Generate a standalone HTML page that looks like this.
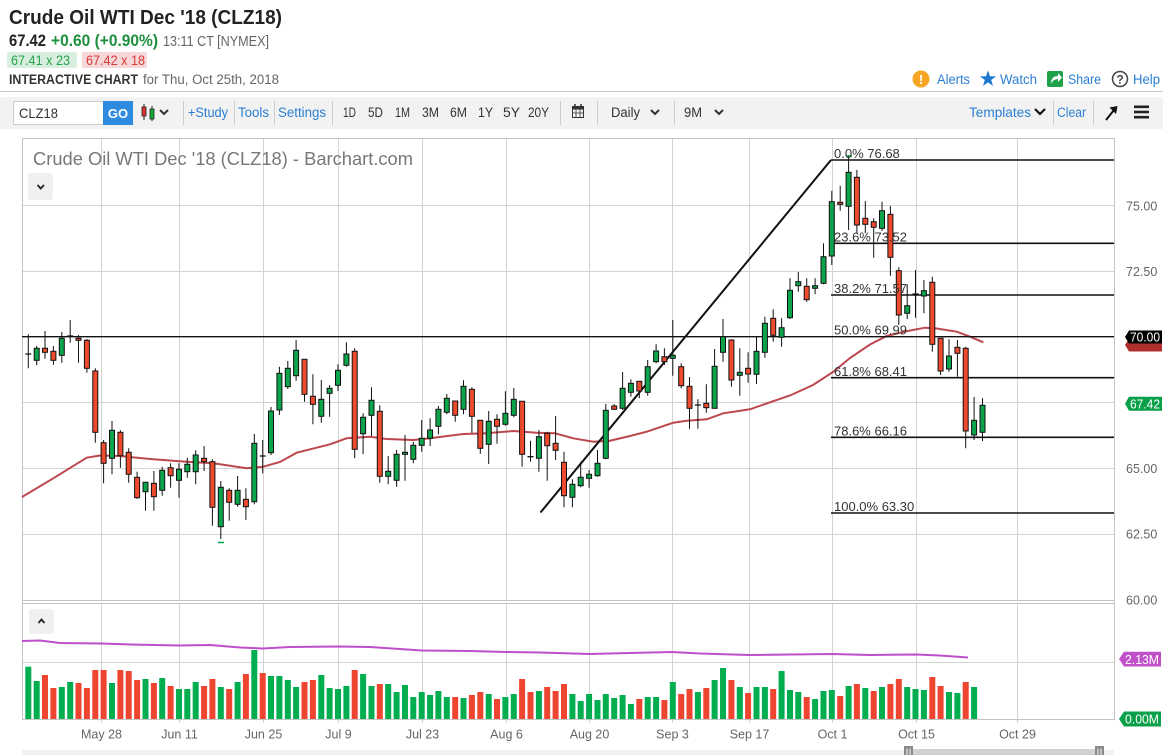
<!DOCTYPE html>
<html><head><meta charset="utf-8"><style>
html,body{margin:0;padding:0;background:#fff;width:1165px;height:755px;overflow:hidden}
svg{display:block;font-family:"Liberation Sans",Arial,sans-serif}
.r{fill:#ee4a2e;stroke:#111;stroke-width:1}
.g{fill:#0ca44a;stroke:#111;stroke-width:1}
.vr{fill:#ee4530}
.vg{fill:#00ad4f}
.grid{stroke:#d3d3d3;stroke-width:1;fill:none}
.ax{font-size:12.5px;fill:#666}
.fib{font-size:13px;fill:#333}
.tb{font-size:13.5px;fill:#333}
.lk{font-size:13.5px;fill:#2a7fd4}
</style></head><body>
<svg width="1165" height="755" viewBox="0 0 1165 755" xmlns="http://www.w3.org/2000/svg">
<!-- Header -->
<text x="9" y="24" font-size="20" font-weight="bold" fill="#222" textLength="273" lengthAdjust="spacingAndGlyphs">Crude Oil WTI Dec '18 (CLZ18)</text>
<text x="9" y="46" font-size="17" font-weight="bold" fill="#222" textLength="37" lengthAdjust="spacingAndGlyphs">67.42</text>
<text x="51" y="46" font-size="17" font-weight="bold" fill="#1e8f3e" textLength="107" lengthAdjust="spacingAndGlyphs">+0.60 (+0.90%)</text>
<text x="163" y="46" font-size="14.5" fill="#666" textLength="106" lengthAdjust="spacingAndGlyphs">13:11 CT [NYMEX]</text>
<rect x="7" y="52" width="70" height="16" rx="2" fill="#d8efdf"/>
<text x="11" y="65" font-size="14" fill="#27a348" textLength="59" lengthAdjust="spacingAndGlyphs">67.41 x 23</text>
<rect x="82" y="52" width="65" height="16" rx="2" fill="#f7d7d7"/>
<text x="86" y="65" font-size="14" fill="#d83a3a" textLength="59" lengthAdjust="spacingAndGlyphs">67.42 x 18</text>
<text x="9" y="84" font-size="13.5" font-weight="bold" fill="#333" textLength="129" lengthAdjust="spacingAndGlyphs">INTERACTIVE CHART</text>
<text x="143" y="84" font-size="13.5" fill="#666" textLength="136" lengthAdjust="spacingAndGlyphs">for Thu, Oct 25th, 2018</text>

<!-- right links -->
<circle cx="921" cy="79" r="8.5" fill="#f6a623"/>
<text x="921" y="84" font-size="13" font-weight="bold" fill="#fff" text-anchor="middle">!</text>
<text x="937" y="84" class="lk" textLength="33" lengthAdjust="spacingAndGlyphs">Alerts</text>
<path d="M988 70.5 L990 76.25 L996.1 76.4 L991.2 80.05 L993 85.9 L988 82.4 L983 85.9 L984.8 80.05 L979.9 76.4 L986 76.25 Z" fill="#1f77d0"/>
<text x="1000" y="84" class="lk" textLength="37" lengthAdjust="spacingAndGlyphs">Watch</text>
<rect x="1047" y="71" width="16" height="16" rx="2" fill="#1fa24a"/>
<path d="M1051 84 Q1051 76 1058 76 L1058 73 L1062 77.5 L1058 82 L1058 79 Q1053 79 1051 84 Z" fill="#fff"/>
<text x="1068" y="84" class="lk" textLength="33" lengthAdjust="spacingAndGlyphs">Share</text>
<circle cx="1120" cy="79" r="7.5" fill="none" stroke="#444" stroke-width="1.5"/>
<text x="1120" y="83.5" font-size="12" font-weight="bold" fill="#444" text-anchor="middle">?</text>
<text x="1133" y="84" class="lk" textLength="27" lengthAdjust="spacingAndGlyphs">Help</text>

<line x1="0" y1="91.5" x2="1163" y2="91.5" stroke="#ccc" stroke-width="1"/>

<!-- toolbar -->
<rect x="0" y="97" width="1163" height="32" fill="#f2f2f2"/>
<rect x="13.5" y="101.5" width="90" height="23" fill="#fff" stroke="#ccc"/>
<text x="19" y="118" font-size="14" fill="#333" textLength="39" lengthAdjust="spacingAndGlyphs">CLZ18</text>
<rect x="103" y="101" width="30" height="24" fill="#2f8be0"/>
<text x="118" y="118" font-size="13" font-weight="bold" fill="#fff" text-anchor="middle">GO</text>
<line x1="144" y1="104" x2="144" y2="120" stroke="#222"/>
<rect x="142" y="107" width="4" height="9" fill="#d33" stroke="#222" stroke-width="0.8"/>
<line x1="152" y1="106" x2="152" y2="121" stroke="#222"/>
<rect x="150" y="109" width="4" height="10" fill="#1a3" stroke="#222" stroke-width="0.8"/>
<path d="M160 110 L164 114 L168 110" stroke="#333" stroke-width="2" fill="none"/>
<g stroke="#ccc"><line x1="183.5" y1="101" x2="183.5" y2="125"/><line x1="234.5" y1="101" x2="234.5" y2="125"/><line x1="274.5" y1="101" x2="274.5" y2="125"/><line x1="332.5" y1="101" x2="332.5" y2="125"/><line x1="560.5" y1="101" x2="560.5" y2="125"/><line x1="597.5" y1="101" x2="597.5" y2="125"/><line x1="674.5" y1="101" x2="674.5" y2="125"/><line x1="1053.5" y1="101" x2="1053.5" y2="125"/><line x1="1093.5" y1="101" x2="1093.5" y2="125"/></g>
<text x="188" y="117" class="lk" textLength="40" lengthAdjust="spacingAndGlyphs">+Study</text>
<text x="238" y="117" class="lk" textLength="31" lengthAdjust="spacingAndGlyphs">Tools</text>
<text x="278" y="117" class="lk" textLength="48" lengthAdjust="spacingAndGlyphs">Settings</text>
<text x="343" y="117" class="tb" textLength="13" lengthAdjust="spacingAndGlyphs">1D</text>
<text x="368" y="117" class="tb" textLength="15" lengthAdjust="spacingAndGlyphs">5D</text>
<text x="395" y="117" class="tb" textLength="15" lengthAdjust="spacingAndGlyphs">1M</text>
<text x="422" y="117" class="tb" textLength="17" lengthAdjust="spacingAndGlyphs">3M</text>
<text x="450" y="117" class="tb" textLength="17" lengthAdjust="spacingAndGlyphs">6M</text>
<text x="478" y="117" class="tb" textLength="15" lengthAdjust="spacingAndGlyphs">1Y</text>
<text x="503" y="117" class="tb" textLength="17" lengthAdjust="spacingAndGlyphs">5Y</text>
<text x="528" y="117" class="tb" textLength="21" lengthAdjust="spacingAndGlyphs">20Y</text>
<rect x="572.5" y="106.5" width="11" height="11" fill="none" stroke="#333"/>
<rect x="572.5" y="106.5" width="11" height="3" fill="#333"/>
<line x1="575" y1="104" x2="575" y2="108" stroke="#333" stroke-width="1.5"/><line x1="581" y1="104" x2="581" y2="108" stroke="#333" stroke-width="1.5"/>
<path d="M572.5 113 H583.5 M576 109.5 V117.5 M580 109.5 V117.5" stroke="#333" stroke-width="0.8"/>
<text x="611" y="117" class="tb" textLength="29" lengthAdjust="spacingAndGlyphs">Daily</text>
<path d="M651 110 L655 114 L659 110" stroke="#333" stroke-width="2" fill="none"/>
<text x="684" y="117" class="tb" textLength="18" lengthAdjust="spacingAndGlyphs">9M</text>
<path d="M715 110 L719 114 L723 110" stroke="#333" stroke-width="2" fill="none"/>
<text x="969" y="117" class="lk" textLength="62" lengthAdjust="spacingAndGlyphs">Templates</text>
<path d="M1035 109 L1040 114 L1045 109" stroke="#111" stroke-width="2.2" fill="none"/>
<text x="1057" y="117" class="lk" textLength="29" lengthAdjust="spacingAndGlyphs">Clear</text>
<line x1="1106" y1="120" x2="1114" y2="110" stroke="#111" stroke-width="2"/>
<polygon points="1117.5,106 1109.5,107.5 1116,114" fill="#111"/>
<rect x="1134" y="105.5" width="15" height="2.6" fill="#222"/>
<rect x="1134" y="110.7" width="15" height="2.6" fill="#222"/>
<rect x="1134" y="115.9" width="15" height="2.6" fill="#222"/>

<!-- Chart frame & grid -->
<g class="grid">
<path d="M101.5 138V600 M179.5 138V600 M263.5 138V600 M338.5 138V600 M422.5 138V600 M506.5 138V600 M589.5 138V600 M672.5 138V600 M749.5 138V600 M832.5 138V600 M916.5 138V600 M1017.5 138V600"/>
<path d="M101.5 603V723 M179.5 603V723 M263.5 603V723 M338.5 603V723 M422.5 603V723 M506.5 603V723 M589.5 603V723 M672.5 603V723 M749.5 603V723 M832.5 603V723 M916.5 603V723 M1017.5 603V723"/>
<path d="M22 205.5H1114 M22 271.5H1114 M22 402.5H1114 M22 468.5H1114 M22 534.5H1114 M22 662.5H1114"/>
</g>
<g stroke="#c4c4c4" fill="none">
<path d="M22.5 138.5H1114.5V719.5H22.5Z"/>
<path d="M22 600.5H1114 M22 603.5H1114"/>
</g>

<!-- chart title & collapse buttons -->
<text x="33" y="165" font-size="18" fill="#777" textLength="380" lengthAdjust="spacingAndGlyphs">Crude Oil WTI Dec '18 (CLZ18) - Barchart.com</text>
<rect x="28" y="173" width="25" height="27" rx="3" fill="#f0f0f0"/>
<path d="M37.5 185 L40.7 188.5 L44 185" stroke="#222" stroke-width="1.8" fill="none"/>
<rect x="29" y="609" width="25" height="25" rx="3" fill="#f0f0f0"/>
<path d="M38.5 623 L41.5 619.5 L44.5 623" stroke="#222" stroke-width="1.8" fill="none"/>

<!-- MA line -->
<path d="M22 497 L53.3 478.3 L86.7 457.7 L100 455.5 L120 456 L153.3 459.3 L186.7 461.7 L213.3 463.3 L246.7 468.3 L263.3 466.7 L280 462 L296.7 452.7 L330 444.3 L346.7 438.3 L370 436.7 L386.7 439 L413.3 440 L430 438.3 L463.3 434 L486.7 433.3 L513.3 431 L536.7 432.7 L555 433.3 L573.3 438.3 L593.3 441.7 L610 440.7 L630 436 L646.7 431.7 L673.3 422.7 L686.7 420.7 L706.7 419.3 L723.3 413.3 L750 409.3 L770 402.3 L790 395.5 L813 385 L833 372 L850 358 L870 344.5 L886.7 336 L905 331.5 L925 327.7 L936.7 328.5 L956.7 331.7 L970 336.7 L983.3 342.3" fill="none" stroke="#b5333a" stroke-width="2" stroke-opacity="0.9"/>

<!-- 70 line, diagonal, fib lines -->
<line x1="22" y1="336.7" x2="1114" y2="336.7" stroke="#111" stroke-width="1.4"/>
<line x1="540.5" y1="512.5" x2="831" y2="160" stroke="#111" stroke-width="2"/>
<g stroke="#111" stroke-width="1.6">
<line x1="831" y1="160" x2="1114" y2="160"/>
<line x1="831" y1="243.3" x2="1114" y2="243.3"/>
<line x1="831" y1="295" x2="1114" y2="295"/>
<line x1="831" y1="377.7" x2="1114" y2="377.7"/>
<line x1="831" y1="437.3" x2="1114" y2="437.3"/>
<line x1="831" y1="513" x2="1114" y2="513"/>
</g>

<!-- wicks -->
<path stroke="#111" stroke-width="1" fill="none" d="M28.3 334.3V368.3 M36.7 346V365.3 M45 331V358.7 M53.4 346V364.7 M61.8 332V362.7 M70.2 320V342.7 M78.5 335V362.7 M86.9 339V372.7 M95.3 368.3V442.7 M103.6 440V483.3 M112 421V474.3 M120.4 430.3V467.7 M128.7 448.3V482.7 M137.1 471.7V499 M145.5 481.7V510.7 M153.9 471V510.7 M162.2 466.7V495.7 M170.6 463.3V487.7 M179 463.3V497.7 M187.3 457.7V477.7 M195.7 450.3V484.3 M204.1 446V471 M212.4 459.3V525.7 M220.8 481V539 M229.2 488.3V520.7 M237.6 476V506.7 M245.9 488.3V520 M254.3 434V504.3 M262.7 440V473.3 M271 407V455 M279.4 366.7V415 M287.8 361V389 M296.1 340V380.7 M304.5 359.3V401.7 M312.9 374.3V424.3 M321.3 380V422.7 M329.6 385V416.7 M338 364.3V391 M346.4 342.3V366.7 M354.7 348.3V458.3 M363.1 413.3V454 M371.5 387.3V436 M379.8 405.3V482.7 M388.2 456V484.3 M396.6 450V486.7 M405 435V480.7 M413.3 442V463.3 M421.7 420V451.7 M430.1 418.3V446 M438.4 406V434.3 M446.8 394V414.3 M455.2 401V421.7 M463.5 380.3V414.3 M471.9 387.3V432.7 M480.3 420.3V453.7 M488.7 411V464 M497 414.3V443.7 M505.4 391.3V425.7 M513.8 388V417.3 M522.1 401.3V466.7 M530.5 440.7V461.7 M538.9 430V471.7 M547.2 431.7V480.7 M555.6 416V460 M564 451.7V507.3 M572.4 479.3V507.3 M580.7 461.7V487.3 M589.1 470V487.7 M597.5 450V476.7 M605.8 404V459.3 M614.2 404V410 M622.6 372V410 M630.9 379.3V396.7 M639.3 381.3V398.3 M647.7 360V395.7 M656.1 344.3V363.3 M664.4 348.3V365 M672.8 320V375.7 M681.2 363.3V388.3 M689.5 377V428.7 M697.9 399.3V428.7 M706.3 384.3V412.7 M714.6 349V408.3 M723 319V361.7 M731.4 339.3V386.7 M739.8 348.3V395.7 M748.1 352.3V382.7 M756.5 336.7V384 M764.9 316.7V357.7 M773.2 309.3V341.7 M781.6 318.3V346.7 M790 278.3V319 M798.3 272V291.7 M806.7 278.3V301.7 M815.1 278.3V294.3 M823.5 243.3V284.3 M831.8 190.7V265 M840.2 185.7V210.7 M848.6 155V230 M856.9 170V233.3 M865.3 201V233.3 M873.7 218.3V257.7 M882 201.7V231 M890.4 206V275.7 M898.8 267.3V325 M907.2 284.3V319 M915.5 270V317.7 M923.9 280V313.3 M932.3 276.7V351.7 M940.6 338.3V375 M949 339.3V371.7 M957.4 340V376.7 M965.7 346.7V448.3 M974.1 397V440 M982.5 398.3V441"/>
<!-- doji ticks -->
<path stroke="#111" stroke-width="1.3" d="M25.3 354H31.3 M67.2 336H73.2 M259.7 456H265.7 M527.5 456.7H533.5 M694.9 405H700.9 M912.5 294H918.5"/>
<!-- bodies -->
<g>
<rect class="g" x="34.2" y="348.3" width="5" height="12"/>
<rect class="r" x="42.5" y="348.3" width="5" height="4"/>
<rect class="r" x="50.9" y="351.3" width="5" height="9"/>
<rect class="g" x="59.3" y="338.3" width="5" height="17"/>
<rect class="r" x="76" y="338.3" width="5" height="2"/>
<rect class="r" x="84.4" y="340.3" width="5" height="28"/>
<rect class="r" x="92.8" y="371" width="5" height="61.3"/>
<rect class="r" x="101.1" y="442.7" width="5" height="20.6"/>
<rect class="g" x="109.5" y="430.3" width="5" height="28"/>
<rect class="r" x="117.9" y="432.3" width="5" height="23.4"/>
<rect class="r" x="126.2" y="452.3" width="5" height="22"/>
<rect class="r" x="134.6" y="477.3" width="5" height="20.4"/>
<rect class="g" x="143" y="482.3" width="5" height="9.4"/>
<rect class="r" x="151.4" y="483.3" width="5" height="13.4"/>
<rect class="g" x="159.7" y="470.3" width="5" height="20"/>
<rect class="r" x="168.1" y="467.7" width="5" height="8"/>
<rect class="g" x="176.5" y="469.3" width="5" height="11"/>
<rect class="g" x="184.8" y="464.3" width="5" height="7.4"/>
<rect class="g" x="193.2" y="455" width="5" height="16.7"/>
<rect class="r" x="201.6" y="458.3" width="5" height="3.4"/>
<rect class="r" x="209.9" y="461.7" width="5" height="45.6"/>
<rect class="g" x="218.3" y="487.3" width="5" height="39.4"/>
<rect class="r" x="226.7" y="490.3" width="5" height="12"/>
<rect class="g" x="235.1" y="490.3" width="5" height="14"/>
<rect class="r" x="243.4" y="499.3" width="5" height="7.4"/>
<rect class="g" x="251.8" y="443.3" width="5" height="58.4"/>
<rect class="g" x="268.5" y="411" width="5" height="41.7"/>
<rect class="g" x="276.9" y="373.3" width="5" height="36.7"/>
<rect class="g" x="285.3" y="368.3" width="5" height="18.4"/>
<rect class="g" x="293.6" y="350.3" width="5" height="25.4"/>
<rect class="r" x="302" y="359.3" width="5" height="35"/>
<rect class="r" x="310.4" y="396.3" width="5" height="8"/>
<rect class="g" x="318.8" y="399.3" width="5" height="17"/>
<rect class="g" x="327.1" y="388.3" width="5" height="5"/>
<rect class="g" x="335.5" y="370.3" width="5" height="15"/>
<rect class="g" x="343.9" y="354" width="5" height="11.3"/>
<rect class="r" x="352.2" y="351.3" width="5" height="98"/>
<rect class="g" x="360.6" y="417.3" width="5" height="16.4"/>
<rect class="g" x="369" y="400.3" width="5" height="15"/>
<rect class="r" x="377.3" y="411.3" width="5" height="65"/>
<rect class="g" x="385.7" y="471.3" width="5" height="5"/>
<rect class="g" x="394.1" y="454.3" width="5" height="26"/>
<rect class="g" x="402.5" y="452.3" width="5" height="2"/>
<rect class="g" x="410.8" y="445.3" width="5" height="14"/>
<rect class="g" x="419.2" y="438.3" width="5" height="7"/>
<rect class="g" x="427.6" y="430" width="5" height="8.3"/>
<rect class="g" x="435.9" y="409.3" width="5" height="17"/>
<rect class="g" x="444.3" y="398.3" width="5" height="14"/>
<rect class="r" x="452.7" y="401" width="5" height="14.3"/>
<rect class="g" x="461" y="386.3" width="5" height="23"/>
<rect class="r" x="469.4" y="389.3" width="5" height="27"/>
<rect class="r" x="477.8" y="420.3" width="5" height="28"/>
<rect class="g" x="486.2" y="421.3" width="5" height="23"/>
<rect class="r" x="494.5" y="419.3" width="5" height="7"/>
<rect class="g" x="502.9" y="413.3" width="5" height="11"/>
<rect class="g" x="511.3" y="399.3" width="5" height="16"/>
<rect class="r" x="519.6" y="401.3" width="5" height="53"/>
<rect class="g" x="536.4" y="436.7" width="5" height="21.6"/>
<rect class="r" x="544.7" y="433.3" width="5" height="12.4"/>
<rect class="r" x="553.1" y="443.3" width="5" height="7"/>
<rect class="r" x="561.5" y="462.3" width="5" height="33.4"/>
<rect class="g" x="569.9" y="484.3" width="5" height="13"/>
<rect class="g" x="578.2" y="477.3" width="5" height="8.4"/>
<rect class="g" x="586.6" y="474.3" width="5" height="4"/>
<rect class="g" x="595" y="463.3" width="5" height="12.4"/>
<rect class="g" x="603.3" y="410.3" width="5" height="48"/>
<rect class="r" x="611.7" y="406" width="5" height="3.3"/>
<rect class="g" x="620.1" y="388.3" width="5" height="20"/>
<rect class="g" x="628.4" y="383.3" width="5" height="9"/>
<rect class="r" x="636.8" y="381.3" width="5" height="9.7"/>
<rect class="g" x="645.2" y="366.7" width="5" height="25.6"/>
<rect class="g" x="653.6" y="351" width="5" height="10.7"/>
<rect class="r" x="661.9" y="356.7" width="5" height="5"/>
<rect class="g" x="670.3" y="355.3" width="5" height="3"/>
<rect class="r" x="678.7" y="366.7" width="5" height="19"/>
<rect class="r" x="687" y="386.3" width="5" height="22"/>
<rect class="r" x="703.8" y="403.3" width="5" height="4.4"/>
<rect class="g" x="712.1" y="366.3" width="5" height="42"/>
<rect class="g" x="720.5" y="336.7" width="5" height="15.6"/>
<rect class="r" x="728.9" y="340" width="5" height="40"/>
<rect class="g" x="737.3" y="372.3" width="5" height="3"/>
<rect class="r" x="745.6" y="368.3" width="5" height="5.7"/>
<rect class="g" x="754" y="351.3" width="5" height="23"/>
<rect class="g" x="762.4" y="323.3" width="5" height="29"/>
<rect class="r" x="770.7" y="318.3" width="5" height="17"/>
<rect class="g" x="779.1" y="327.7" width="5" height="9.6"/>
<rect class="g" x="787.5" y="290.3" width="5" height="27.4"/>
<rect class="g" x="795.8" y="281.7" width="5" height="4"/>
<rect class="r" x="804.2" y="286.3" width="5" height="13.4"/>
<rect class="g" x="812.6" y="285.7" width="5" height="2.6"/>
<rect class="g" x="821" y="256.7" width="5" height="26.6"/>
<rect class="g" x="829.3" y="201.7" width="5" height="54.3"/>
<rect class="r" x="837.7" y="202.3" width="5" height="2"/>
<rect class="g" x="846.1" y="172.3" width="5" height="34"/>
<rect class="r" x="854.4" y="177.3" width="5" height="47.7"/>
<rect class="r" x="862.8" y="218.3" width="5" height="6"/>
<rect class="r" x="871.2" y="221.7" width="5" height="5.6"/>
<rect class="g" x="879.5" y="210.7" width="5" height="17.6"/>
<rect class="r" x="887.9" y="214.3" width="5" height="43"/>
<rect class="r" x="896.3" y="270.7" width="5" height="44.3"/>
<rect class="g" x="904.7" y="305.7" width="5" height="7.6"/>
<rect class="g" x="921.4" y="290.7" width="5" height="5.3"/>
<rect class="r" x="929.8" y="282.3" width="5" height="62"/>
<rect class="r" x="938.1" y="338.3" width="5" height="32.7"/>
<rect class="g" x="946.5" y="356" width="5" height="13"/>
<rect class="r" x="954.9" y="347.3" width="5" height="6"/>
<rect class="r" x="963.2" y="348.3" width="5" height="82.7"/>
<rect class="g" x="971.6" y="420.3" width="5" height="14.7"/>
<rect class="g" x="980" y="405.3" width="5" height="27"/>
</g>
<!-- high/low markers -->
<path d="M218 542.5H224 M846 156H852" stroke="#0ca44a" stroke-width="1.5"/>

<!-- fib labels -->
<text x="834" y="158" class="fib">0.0% 76.68</text>
<text x="834" y="241.5" class="fib">23.6% 73.52</text>
<text x="834" y="293" class="fib">38.2% 71.57</text>
<text x="834" y="334.5" class="fib">50.0% 69.99</text>
<text x="834" y="376" class="fib">61.8% 68.41</text>
<text x="834" y="435.5" class="fib">78.6% 66.16</text>
<text x="834" y="511" class="fib">100.0% 63.30</text>

<!-- volume -->
<path d="M22 641 L40 640.5 L60 643 L101 643.5 L130 644.5 L179 645.5 L210 645 L240 647.5 L263 648.5 L290 647 L338 646.5 L370 647 L422 650.5 L470 651 L506 652 L540 652.5 L589 654 L630 653 L672 652 L700 653.5 L749 655 L790 654.5 L832 654 L870 655 L916 654.5 L940 655.5 L968 657.5" fill="none" stroke="#c04fcc" stroke-width="2"/>
<g>
<rect class="vg" x="25.3" y="666.7" width="6" height="52.3"/>
<rect class="vg" x="33.7" y="681" width="6" height="38"/>
<rect class="vr" x="42" y="675" width="6" height="44"/>
<rect class="vr" x="50.4" y="688" width="6" height="31"/>
<rect class="vg" x="58.8" y="687" width="6" height="32"/>
<rect class="vg" x="67.2" y="682" width="6" height="37"/>
<rect class="vr" x="75.5" y="683" width="6" height="36"/>
<rect class="vr" x="83.9" y="688" width="6" height="31"/>
<rect class="vr" x="92.3" y="670" width="6" height="49"/>
<rect class="vr" x="100.6" y="670" width="6" height="49"/>
<rect class="vg" x="109" y="683" width="6" height="36"/>
<rect class="vr" x="117.4" y="670" width="6" height="49"/>
<rect class="vr" x="125.7" y="671" width="6" height="48"/>
<rect class="vr" x="134.1" y="680" width="6" height="39"/>
<rect class="vg" x="142.5" y="679" width="6" height="40"/>
<rect class="vr" x="150.9" y="683" width="6" height="36"/>
<rect class="vg" x="159.2" y="678" width="6" height="41"/>
<rect class="vr" x="167.6" y="686" width="6" height="33"/>
<rect class="vg" x="176" y="689" width="6" height="30"/>
<rect class="vg" x="184.3" y="689" width="6" height="30"/>
<rect class="vg" x="192.7" y="682" width="6" height="37"/>
<rect class="vr" x="201.1" y="686" width="6" height="33"/>
<rect class="vr" x="209.4" y="679" width="6" height="40"/>
<rect class="vg" x="217.8" y="687" width="6" height="32"/>
<rect class="vr" x="226.2" y="689" width="6" height="30"/>
<rect class="vg" x="234.6" y="682" width="6" height="37"/>
<rect class="vr" x="242.9" y="674" width="6" height="45"/>
<rect class="vg" x="251.3" y="650" width="6" height="69"/>
<rect class="vr" x="259.7" y="673" width="6" height="46"/>
<rect class="vg" x="268" y="676" width="6" height="43"/>
<rect class="vg" x="276.4" y="676" width="6" height="43"/>
<rect class="vg" x="284.8" y="680" width="6" height="39"/>
<rect class="vg" x="293.1" y="687" width="6" height="32"/>
<rect class="vr" x="301.5" y="682" width="6" height="37"/>
<rect class="vr" x="309.9" y="680" width="6" height="39"/>
<rect class="vg" x="318.3" y="675" width="6" height="44"/>
<rect class="vg" x="326.6" y="688" width="6" height="31"/>
<rect class="vg" x="335" y="689" width="6" height="30"/>
<rect class="vg" x="343.4" y="686" width="6" height="33"/>
<rect class="vr" x="351.7" y="670" width="6" height="49"/>
<rect class="vg" x="360.1" y="674" width="6" height="45"/>
<rect class="vg" x="368.5" y="686" width="6" height="33"/>
<rect class="vr" x="376.8" y="684" width="6" height="35"/>
<rect class="vg" x="385.2" y="684" width="6" height="35"/>
<rect class="vg" x="393.6" y="692" width="6" height="27"/>
<rect class="vg" x="402" y="685" width="6" height="34"/>
<rect class="vg" x="410.3" y="697" width="6" height="22"/>
<rect class="vg" x="418.7" y="692" width="6" height="27"/>
<rect class="vg" x="427.1" y="695" width="6" height="24"/>
<rect class="vg" x="435.4" y="691" width="6" height="28"/>
<rect class="vg" x="443.8" y="697" width="6" height="22"/>
<rect class="vr" x="452.2" y="697" width="6" height="22"/>
<rect class="vg" x="460.5" y="698" width="6" height="21"/>
<rect class="vr" x="468.9" y="695" width="6" height="24"/>
<rect class="vr" x="477.3" y="692" width="6" height="27"/>
<rect class="vg" x="485.7" y="694" width="6" height="25"/>
<rect class="vr" x="494" y="699" width="6" height="20"/>
<rect class="vg" x="502.4" y="697" width="6" height="22"/>
<rect class="vg" x="510.8" y="694" width="6" height="25"/>
<rect class="vr" x="519.1" y="679" width="6" height="40"/>
<rect class="vr" x="527.5" y="692" width="6" height="27"/>
<rect class="vg" x="535.9" y="691" width="6" height="28"/>
<rect class="vr" x="544.2" y="687" width="6" height="32"/>
<rect class="vr" x="552.6" y="691" width="6" height="28"/>
<rect class="vr" x="561" y="684" width="6" height="35"/>
<rect class="vg" x="569.4" y="694" width="6" height="25"/>
<rect class="vg" x="577.7" y="701" width="6" height="18"/>
<rect class="vg" x="586.1" y="694" width="6" height="25"/>
<rect class="vg" x="594.5" y="700" width="6" height="19"/>
<rect class="vg" x="602.8" y="694" width="6" height="25"/>
<rect class="vg" x="611.2" y="698" width="6" height="21"/>
<rect class="vg" x="619.6" y="695" width="6" height="24"/>
<rect class="vg" x="627.9" y="704" width="6" height="15"/>
<rect class="vr" x="636.3" y="699" width="6" height="20"/>
<rect class="vg" x="644.7" y="697" width="6" height="22"/>
<rect class="vg" x="653.1" y="697" width="6" height="22"/>
<rect class="vr" x="661.4" y="700" width="6" height="19"/>
<rect class="vg" x="669.8" y="682" width="6" height="37"/>
<rect class="vr" x="678.2" y="694" width="6" height="25"/>
<rect class="vr" x="686.5" y="689" width="6" height="30"/>
<rect class="vg" x="694.9" y="692" width="6" height="27"/>
<rect class="vr" x="703.3" y="688" width="6" height="31"/>
<rect class="vg" x="711.6" y="680" width="6" height="39"/>
<rect class="vg" x="720" y="668" width="6" height="51"/>
<rect class="vr" x="728.4" y="680" width="6" height="39"/>
<rect class="vg" x="736.8" y="687" width="6" height="32"/>
<rect class="vr" x="745.1" y="693" width="6" height="26"/>
<rect class="vg" x="753.5" y="687" width="6" height="32"/>
<rect class="vg" x="761.9" y="687" width="6" height="32"/>
<rect class="vr" x="770.2" y="689" width="6" height="30"/>
<rect class="vg" x="778.6" y="671" width="6" height="48"/>
<rect class="vg" x="787" y="690" width="6" height="29"/>
<rect class="vg" x="795.3" y="692" width="6" height="27"/>
<rect class="vr" x="803.7" y="697" width="6" height="22"/>
<rect class="vg" x="812.1" y="699" width="6" height="20"/>
<rect class="vg" x="820.5" y="691" width="6" height="28"/>
<rect class="vg" x="828.8" y="690" width="6" height="29"/>
<rect class="vr" x="837.2" y="696" width="6" height="23"/>
<rect class="vg" x="845.6" y="686" width="6" height="33"/>
<rect class="vr" x="853.9" y="684" width="6" height="35"/>
<rect class="vg" x="862.3" y="688" width="6" height="31"/>
<rect class="vr" x="870.7" y="691" width="6" height="28"/>
<rect class="vg" x="879" y="687" width="6" height="32"/>
<rect class="vr" x="887.4" y="684" width="6" height="35"/>
<rect class="vr" x="895.8" y="679" width="6" height="40"/>
<rect class="vg" x="904.2" y="687" width="6" height="32"/>
<rect class="vg" x="912.5" y="689" width="6" height="30"/>
<rect class="vg" x="920.9" y="690" width="6" height="29"/>
<rect class="vr" x="929.3" y="677" width="6" height="42"/>
<rect class="vr" x="937.6" y="686" width="6" height="33"/>
<rect class="vg" x="946" y="692" width="6" height="27"/>
<rect class="vg" x="954.4" y="693" width="6" height="26"/>
<rect class="vr" x="962.7" y="682" width="6" height="37"/>
<rect class="vg" x="971.1" y="687" width="6" height="32"/>
</g>
<line x1="22" y1="719.5" x2="1114" y2="719.5" stroke="#c4c4c4"/>

<!-- y axis labels -->
<g class="ax">
<text x="1126" y="210.5">75.00</text>
<text x="1126" y="276">72.50</text>
<text x="1126" y="473">65.00</text>
<text x="1126" y="538.5">62.50</text>
<text x="1126" y="604.5">60.00</text>
</g>
<!-- tags -->
<path d="M1125 345 L1129 338.5 H1162 V351.5 H1129 Z" fill="#b03030"/>
<path d="M1125 337 L1129 330.5 H1162 V343.5 H1129 Z" fill="#000"/>
<text x="1130" y="341.5" font-size="12.5" fill="#fff" textLength="30" lengthAdjust="spacingAndGlyphs">70.00</text>
<path d="M1125 403.7 L1129 396.7 H1162 V410.7 H1129 Z" fill="#0aa04a"/>
<text x="1130" y="408.3" font-size="12.5" fill="#fff" textLength="30" lengthAdjust="spacingAndGlyphs">67.42</text>
<path d="M1119 659 L1124 651.7 H1161 V666.5 H1124 Z" fill="#c050c8"/>
<text x="1125" y="663.8" font-size="12.5" fill="#fff" textLength="34" lengthAdjust="spacingAndGlyphs">2.13M</text>
<path d="M1119 719 L1124 711.5 H1161 V726.5 H1124 Z" fill="#0aa04a"/>
<text x="1125" y="723.5" font-size="12.5" fill="#fff" textLength="34" lengthAdjust="spacingAndGlyphs">0.00M</text>

<!-- x axis labels -->
<g class="ax" text-anchor="middle">
<text x="101.5" y="738.5">May 28</text>
<text x="179.5" y="738.5">Jun 11</text>
<text x="263.5" y="738.5">Jun 25</text>
<text x="338.5" y="738.5">Jul 9</text>
<text x="422.5" y="738.5">Jul 23</text>
<text x="506.5" y="738.5">Aug 6</text>
<text x="589.5" y="738.5">Aug 20</text>
<text x="672.5" y="738.5">Sep 3</text>
<text x="749.5" y="738.5">Sep 17</text>
<text x="832.5" y="738.5">Oct 1</text>
<text x="916.5" y="738.5">Oct 15</text>
<text x="1017.5" y="738.5">Oct 29</text>
</g>

<!-- scrollbar -->
<rect x="22" y="750" width="1092" height="5" fill="#f0f0f0"/>
<rect x="908" y="749" width="192" height="6" fill="#d2d2d2"/>
<rect x="904" y="746" width="9" height="9" fill="#8a8a8a"/>
<path d="M907 748.5V755 M910 748.5V755" stroke="#fff" stroke-width="1"/>
<rect x="1095" y="746" width="9" height="9" fill="#8a8a8a"/>
<path d="M1098 748.5V755 M1101 748.5V755" stroke="#fff" stroke-width="1"/>
</svg>
</body></html>
